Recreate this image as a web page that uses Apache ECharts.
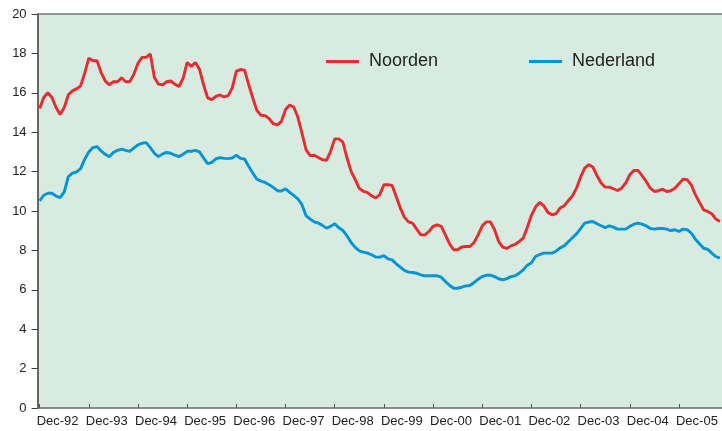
<!DOCTYPE html>
<html>
<head>
<meta charset="utf-8">
<script src="https://cdn.jsdelivr.net/npm/echarts@6/dist/echarts.min.js"></script>
<style>
  html, body { margin: 0; padding: 0; background: #ffffff; }
  #chart { width: 722px; height: 431px; }
</style>
</head>
<body>
<div id="chart"></div>
<script>
// Monthly series, December 1992 through October 2006 (percentages)
const startYear = 1992;
const startMonth = 11; // December (0-based)
const monthNames = ['Jan', 'Feb', 'Mar', 'Apr', 'May', 'Jun', 'Jul', 'Aug', 'Sep', 'Oct', 'Nov', 'Dec'];

const yTicks = [0, 2, 4, 6, 8, 10, 12, 14, 16, 18, 20];

const noorden = [
  15.2, 15.76, 16.0, 15.76, 15.25, 14.9, 15.25, 15.9, 16.1, 16.2, 16.35, 17.0,
  17.76, 17.63, 17.63, 17.03, 16.6, 16.4, 16.56, 16.56, 16.76, 16.56, 16.56, 16.95,
  17.5, 17.8, 17.8, 17.97, 16.78, 16.44, 16.4, 16.56, 16.6, 16.44, 16.32, 16.73,
  17.54, 17.34, 17.54, 17.2, 16.4, 15.74, 15.65, 15.82, 15.89, 15.79, 15.86, 16.25,
  17.1, 17.18, 17.15, 16.42, 15.74, 15.11, 14.86, 14.84, 14.69, 14.43, 14.37, 14.55,
  15.15, 15.38, 15.28, 14.77, 13.96, 13.11, 12.81, 12.83, 12.72, 12.6, 12.57, 13.03,
  13.66, 13.66, 13.49, 12.69, 12.01, 11.59, 11.14, 11.0, 10.93, 10.77, 10.66, 10.83,
  11.33, 11.33, 11.3, 10.74, 10.15, 9.69, 9.45, 9.38, 9.08, 8.79, 8.79, 8.96,
  9.22, 9.3, 9.22, 8.79, 8.34, 8.03, 8.03, 8.17, 8.2, 8.2, 8.4, 8.79,
  9.25, 9.45, 9.45, 9.05, 8.45, 8.17, 8.1, 8.23, 8.3, 8.45, 8.62, 9.18,
  9.78, 10.2, 10.44, 10.27, 9.93, 9.81, 9.86, 10.15, 10.27, 10.52, 10.77, 11.16,
  11.72, 12.18, 12.35, 12.23, 11.79, 11.42, 11.21, 11.21, 11.13, 11.04, 11.16, 11.42,
  11.84, 12.06, 12.06, 11.79, 11.5, 11.16, 10.99, 11.03, 11.11, 10.99, 11.03, 11.16,
  11.38, 11.62, 11.59, 11.33, 10.83, 10.44, 10.06, 9.98, 9.86, 9.59, 9.47
];

const nederland = [
  10.51, 10.8, 10.9, 10.9, 10.76, 10.68, 10.97, 11.75, 11.92, 11.98, 12.15, 12.63,
  13.0, 13.22, 13.27, 13.05, 12.88, 12.75, 12.97, 13.08, 13.14, 13.08, 13.03, 13.2,
  13.36, 13.44, 13.47, 13.22, 12.93, 12.76, 12.9, 12.97, 12.93, 12.83, 12.76, 12.88,
  13.03, 13.03, 13.08, 13.0, 12.7, 12.4, 12.47, 12.64, 12.71, 12.67, 12.66, 12.69,
  12.84, 12.67, 12.64, 12.27, 11.93, 11.62, 11.52, 11.45, 11.33, 11.2, 11.03, 11.01,
  11.13, 10.95, 10.79, 10.62, 10.32, 9.76, 9.59, 9.45, 9.39, 9.27, 9.13, 9.22,
  9.35, 9.15, 9.01, 8.74, 8.4, 8.15, 7.98, 7.91, 7.86, 7.78, 7.66, 7.66,
  7.74, 7.57, 7.52, 7.32, 7.15, 6.98, 6.9, 6.88, 6.84, 6.76, 6.71, 6.71,
  6.71, 6.71, 6.64, 6.42, 6.23, 6.08, 6.08, 6.13, 6.2, 6.22, 6.37, 6.54,
  6.67, 6.74, 6.74, 6.67, 6.56, 6.5, 6.57, 6.67, 6.71, 6.84, 7.01, 7.25,
  7.37, 7.69, 7.79, 7.86, 7.86, 7.86, 7.96, 8.13, 8.23, 8.44, 8.64, 8.84,
  9.11, 9.38, 9.44, 9.47, 9.35, 9.25, 9.16, 9.25, 9.18, 9.08, 9.08, 9.08,
  9.22, 9.33, 9.38, 9.33, 9.25, 9.11, 9.08, 9.11, 9.11, 9.08, 9.01, 9.05,
  8.96, 9.08, 9.05, 8.88, 8.57, 8.34, 8.11, 8.06, 7.86, 7.69, 7.61
];

// Month labels such as "Dec-92"
const categories = noorden.map((_, i) => {
  const m = (startMonth + i) % 12;
  const y = startYear + Math.floor((startMonth + i) / 12);
  return monthNames[m] + '-' + String(y % 100).padStart(2, '0');
});

const textFont = 'Liberation Sans, Arial, Helvetica, sans-serif';
const red = '#ea2a2f';
const blue = '#0095d6';

const chart = echarts.init(document.getElementById('chart'), null, { renderer: 'canvas' });

chart.setOption({
  animation: false,
  backgroundColor: '#ffffff',
  grid: {
    left: 37.6,
    top: 14,
    bottom: 23,
    width: 686,
    show: true,
    backgroundColor: '#d8ebe0',
    borderWidth: 0
  },
  legend: {
    left: 326,
    top: 51.5,
    padding: 0,
    itemWidth: 33,
    itemHeight: 3,
    itemGap: 91,
    icon: 'rect',
    textStyle: { fontFamily: textFont, fontSize: 18, color: '#222222', padding: [0, 0, 0, 5], lineHeight: 20 },
    data: [
      { name: 'Noorden', itemStyle: { color: red } },
      { name: 'Nederland', itemStyle: { color: blue } }
    ]
  },
  xAxis: [
    {
      type: 'category',
      data: categories,
      boundaryGap: true,
      axisLine: { show: true, lineStyle: { color: '#6b6b6b', width: 1.5 } },
      axisTick: { show: true, inside: true, length: 4, interval: 11, alignWithLabel: true, lineStyle: { color: '#555555', width: 1 } },
      axisLabel: { interval: 11, margin: 7, align: 'left', padding: [0, 0, 0, -3], fontFamily: textFont, fontSize: 13, color: '#222222' },
      splitLine: { show: false }
    },
    {
      type: 'category',
      position: 'top',
      data: categories,
      axisLine: { show: true, lineStyle: { color: '#7a7a7a', width: 1.5 } },
      axisTick: { show: false },
      axisLabel: { show: false },
      splitLine: { show: false }
    }
  ],
  yAxis: {
    type: 'value',
    min: yTicks[0],
    max: yTicks[yTicks.length - 1],
    interval: yTicks[1] - yTicks[0],
    axisLine: { show: true, lineStyle: { color: '#3a3a3a', width: 1.5 } },
    axisTick: { show: true, inside: false, length: 6, lineStyle: { color: '#3a3a3a', width: 1 } },
    axisLabel: { margin: 11, fontFamily: textFont, fontSize: 13, color: '#222222' },
    splitLine: { show: false }
  },
  series: [
    {
      name: 'Noorden',
      type: 'line',
      data: noorden,
      symbol: 'none',
      smooth: false,
      lineStyle: { color: red, width: 2.9 },
      itemStyle: { color: red },
      z: 3
    },
    {
      name: 'Nederland',
      type: 'line',
      data: nederland,
      symbol: 'none',
      smooth: false,
      lineStyle: { color: blue, width: 2.9 },
      itemStyle: { color: blue },
      z: 2
    }
  ]
});
</script>
</body>
</html>
